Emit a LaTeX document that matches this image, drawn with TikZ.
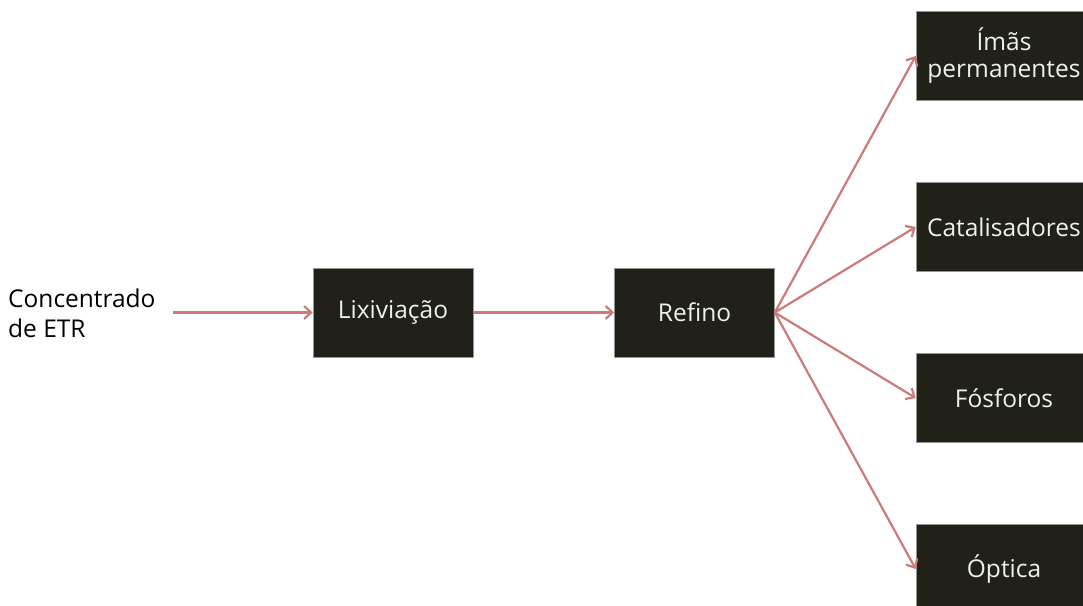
\documentclass[tikz,border=0pt]{standalone}
\usepackage{fontspec}
\setmainfont{Open Sans}
\usetikzlibrary{arrows.meta}
\definecolor{boxfill}{RGB}{33,33,26}
\definecolor{boxedge}{RGB}{150,150,145}
\definecolor{flow}{RGB}{206,122,122}
\definecolor{boxtext}{RGB}{240,240,236}
\tikzset{
  stage/.style={rectangle, fill=boxfill, draw=boxedge, line width=0.6pt,
    text=boxtext, font=\fontsize{24.5}{27}\selectfont, align=center,
    inner sep=0pt, minimum height=89pt},
  midstage/.style={stage, minimum width=160pt},
  usestage/.style={stage, minimum width=176pt},
  flowline/.style={draw=flow, line width=2.2pt,
    -{Straight Barb[length=7pt, width=13pt, line width=2.2pt]}},
  plain/.style={font=\fontsize{24.5}{30}\selectfont, align=left, inner sep=0pt}
}
\begin{document}
\begin{tikzpicture}[x=1pt, y=-1pt]
  \clip (0,0) rectangle (1083,605);
  \fill[white] (0,0) rectangle (1083,605);

  % feed material
  \node[plain, anchor=west] (feed) at (8,313) {Concentrado\\de ETR};
  \coordinate (feedout) at (173,312.5);

  % process chain
  \node[midstage] (lix) at (393,312.5) {Lixiviação};
  \node[midstage] (ref) at (694.5,312.5) {Refino};

  % end uses
  \node[usestage] (imas) at (1004,56) {Ímãs\\permanentes};
  \node[usestage] (cat)  at (1004,227) {Catalisadores};
  \node[usestage] (fos)  at (1004,398) {Fósforos};
  \node[usestage] (opt)  at (1004,569) {Óptica};

  % connectors
  \draw[flowline] (feedout) -- (lix.west);
  \draw[flowline] (lix.east) -- (ref.west);
  \foreach \t in {imas,cat,fos,opt}
    \draw[flowline] (ref.east) -- (\t.west);
\end{tikzpicture}
\end{document}
